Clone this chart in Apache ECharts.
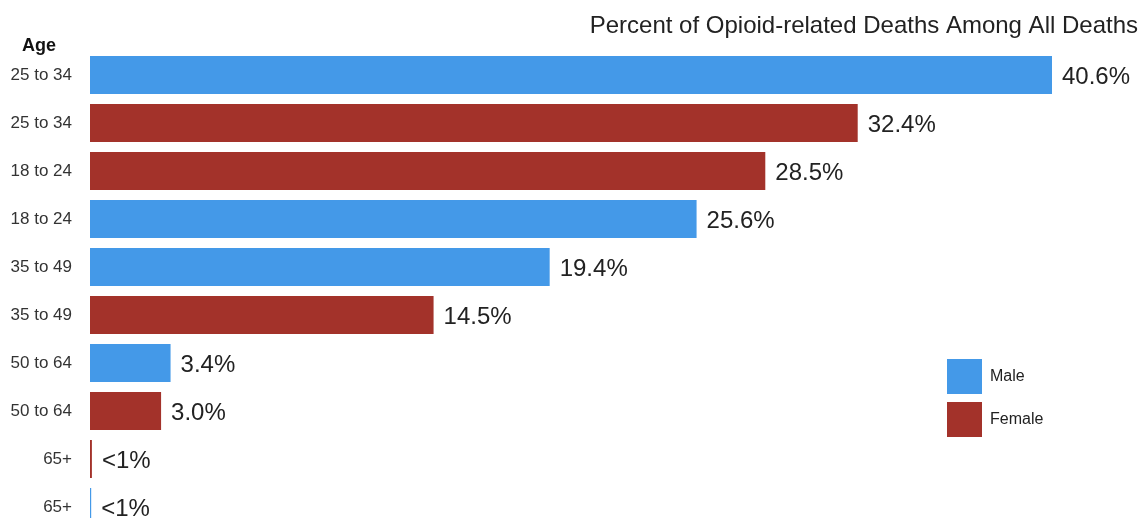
<!DOCTYPE html>
<html>
<head>
<meta charset="utf-8">
<script src="https://cdn.jsdelivr.net/npm/echarts@6/dist/echarts.min.js"></script>
<style>
  html, body { margin: 0; padding: 0; background: #fff; }
  #chart { width: 1143px; height: 518px; }
</style>
</head>
<body>
<div id="chart"></div>
<script>
// rows from top to bottom
var ageLabels = ['25 to 34', '25 to 34', '18 to 24', '18 to 24', '35 to 49', '35 to 49', '50 to 64', '50 to 64', '65+', '65+']
var sexes = ['Male', 'Female', 'Female', 'Male', 'Male', 'Female', 'Male', 'Female', 'Female', 'Male']
var values = [40.6, 32.4, 28.5, 25.6, 19.4, 14.5, 3.4, 3.0, 0.08, 0.05]
var valueLabels = ['40.6%', '32.4%', '28.5%', '25.6%', '19.4%', '14.5%', '3.4%', '3.0%', '<1%', '<1%']

var blue = '#4499e8'
var red = '#a3322a'
var font = 'Liberation Sans, Arial, Helvetica, sans-serif'

function seriesFor(sex) {
  return values.map(function (v, i) {
    return sexes[i] === sex ? v : '-'
  })
}

var labelOpt = {
  show: true,
  position: 'right',
  distance: 10,
  offset: [0, 2],
  color: '#222',
  fontSize: 24,
  fontFamily: font,
  formatter: function (p) {
    return valueLabels[p.dataIndex]
  }
}

var myChart = echarts.init(document.getElementById('chart'))
myChart.setOption({
  animation: false,
  title: {
    text: 'Percent of Opioid-related Deaths Among All Deaths',
    right: 5,
    top: 14,
    padding: 0,
    textStyle: {
      color: '#222',
      fontSize: 24,
      fontWeight: 'normal',
      fontFamily: font
    }
  },
  legend: {
    orient: 'vertical',
    left: 947,
    top: 359,
    padding: 0,
    itemWidth: 35,
    itemHeight: 35,
    itemGap: 8,
    icon: 'rect',
    data: ['Male', 'Female'],
    textStyle: {
      color: '#222',
      fontSize: 16,
      fontFamily: font,
      padding: [5, 0, 0, 3]
    }
  },
  graphic: [
    {
      type: 'text',
      left: 22,
      top: 37,
      style: {
        text: 'Age',
        fill: '#111',
        font: 'bold 18px ' + font
      }
    }
  ],
  grid: {
    left: 90,
    top: 51,
    width: 962,
    height: 480,
    containLabel: false,
    outerBoundsMode: 'none'
  },
  xAxis: {
    type: 'value',
    min: 0,
    max: 40.6,
    show: false
  },
  yAxis: {
    type: 'category',
    inverse: true,
    data: ageLabels,
    axisLine: { show: false },
    axisTick: { show: false },
    axisLabel: {
      color: '#333',
      fontSize: 17,
      fontFamily: font,
      margin: 18
    }
  },
  series: [
    {
      name: 'Male',
      type: 'bar',
      stack: 'all',
      barWidth: 38,
      data: seriesFor('Male'),
      itemStyle: { color: blue },
      label: labelOpt
    },
    {
      name: 'Female',
      type: 'bar',
      stack: 'all',
      barWidth: 38,
      data: seriesFor('Female'),
      itemStyle: { color: red },
      label: labelOpt
    }
  ]
})
window.onresize = function () {
  myChart.resize()
}
</script>
</body>
</html>
